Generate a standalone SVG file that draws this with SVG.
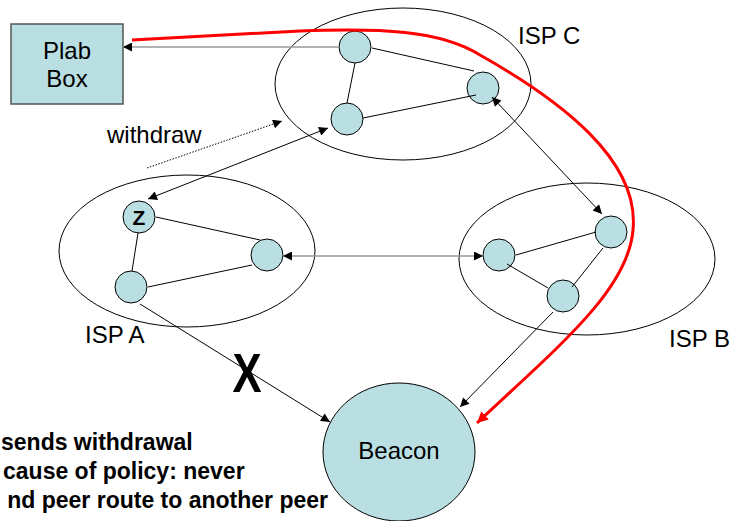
<svg xmlns="http://www.w3.org/2000/svg" width="731" height="521" viewBox="0 0 731 521">
  <style>
    .isp { fill: none; stroke: #000; stroke-width: 1; }
    .rtr { fill: #BADFE2; stroke: #000; stroke-width: 1; }
    .link { stroke: #000; stroke-width: 1; fill: none; }
    .lbl { font-family: "Liberation Sans", Arial, sans-serif; font-size: 24px; fill: #000; }
    .note { font-family: "Liberation Sans", Arial, sans-serif; font-size: 23px; font-weight: bold; fill: #000; }
    .conn { stroke: #000; stroke-width: 1; fill: none; }
    .grey { stroke: #999; stroke-width: 1.5; fill: none; }
  </style>
  <defs>
    <marker id="ah" viewBox="0 0 10 10" refX="10" refY="5" markerWidth="11" markerHeight="9" markerUnits="userSpaceOnUse" orient="auto-start-reverse">
      <path d="M0,0 L10,5 L0,10 z" fill="#000"/>
    </marker>
    <marker id="ahRed" viewBox="0 0 10 10" refX="10" refY="5" markerWidth="14" markerHeight="11" markerUnits="userSpaceOnUse" orient="auto">
      <path d="M0,0 L10,5 L0,10 z" fill="#F00"/>
    </marker>
  </defs>

  <!-- ISP clouds -->
  <g id="ispC">
    <ellipse class="isp" cx="403" cy="84" rx="128" ry="76"/>
    <text class="lbl" x="518" y="44">ISP C</text>
  </g>
  <g id="ispA">
    <ellipse class="isp" cx="187" cy="251" rx="128" ry="76"/>
    <text class="lbl" x="85" y="343">ISP A</text>
  </g>
  <g id="ispB">
    <ellipse class="isp" cx="587" cy="259" rx="128" ry="76"/>
    <text class="lbl" x="669" y="347">ISP B</text>
  </g>

  <!-- Plab box -->
  <g id="plab">
    <rect x="11" y="24" width="112" height="80" fill="#BADFE2" stroke="#555" stroke-width="1.5"/>
    <text class="lbl" x="67" y="59" text-anchor="middle">Plab</text>
    <text class="lbl" x="67" y="87" text-anchor="middle">Box</text>
  </g>

  <!-- Beacon -->
  <g id="beacon">
    <ellipse cx="399" cy="452" rx="76" ry="69" fill="#BADFE2" stroke="#000" stroke-width="1"/>
    <text class="lbl" x="399" y="459" text-anchor="middle">Beacon</text>
  </g>

  <!-- routers -->
  <g id="c1"><circle class="rtr" cx="355" cy="47" r="16"/></g>
  <g id="c2"><circle class="rtr" cx="483" cy="88" r="16"/></g>
  <g id="c3"><circle class="rtr" cx="347" cy="119" r="16"/></g>
  <g id="z">
    <circle class="rtr" cx="139" cy="217" r="16"/>
    <text x="139" y="225" text-anchor="middle" font-family="'Liberation Sans', Arial, sans-serif" font-size="21" font-weight="bold">Z</text>
  </g>
  <g id="a2"><circle class="rtr" cx="267" cy="255" r="16"/></g>
  <g id="a3"><circle class="rtr" cx="131" cy="287" r="16"/></g>
  <g id="b1"><circle class="rtr" cx="499" cy="255" r="16"/></g>
  <g id="b2"><circle class="rtr" cx="611" cy="232" r="16"/></g>
  <g id="b3"><circle class="rtr" cx="563" cy="296" r="16"/></g>

  <!-- links and route announcements -->
  <g id="connectors">
    <!-- intra-ISP links -->
    <line class="link" x1="372" y1="48" x2="474" y2="71"/>
    <line class="link" x1="355" y1="63" x2="347" y2="103"/>
    <line class="link" x1="363" y1="118" x2="476" y2="95"/>
    <line class="link" x1="156" y1="217" x2="260" y2="240"/>
    <line class="link" x1="138" y1="233" x2="132" y2="271"/>
    <line class="link" x1="148" y1="287" x2="252" y2="265"/>
    <line class="link" x1="516" y1="255" x2="596" y2="232"/>
    <line class="link" x1="507" y1="264" x2="548" y2="288"/>
    <line class="link" x1="572" y1="287" x2="603" y2="248"/>

    <!-- inter-ISP sessions -->
    <line class="grey" x1="339" y1="47" x2="123" y2="47" marker-end="url(#ah)"/>
    <line class="grey" x1="283" y1="256" x2="483" y2="256" marker-start="url(#ah)" marker-end="url(#ah)"/>
    <line class="conn" x1="492" y1="97" x2="602" y2="214" marker-start="url(#ah)" marker-end="url(#ah)"/>
    <line class="conn" x1="328" y1="128" x2="148" y2="199" marker-start="url(#ah)" marker-end="url(#ah)"/>
    <line class="conn" x1="140" y1="304" x2="330" y2="422" marker-end="url(#ah)"/>
    <line class="conn" x1="553" y1="312" x2="460" y2="407" marker-end="url(#ah)"/>
    <line class="conn" x1="147" y1="168" x2="282" y2="121" stroke-dasharray="1.5,1.5" marker-end="url(#ah)"/>

    <!-- red route path from Plab box to beacon -->
    <path d="M132,40 L300,31 C380,28 440,30 480,55 C560,100 640,160 633,230 C628,290 560,345 477,423" fill="none" stroke="#F00" stroke-width="3" marker-end="url(#ahRed)"/>
  </g>

  <!-- blocked announcement mark -->
  <text x="0" y="0" transform="translate(247,392) scale(0.78,1)" text-anchor="middle" font-family="'Liberation Sans', Arial, sans-serif" font-size="56" font-weight="bold">X</text>

  <!-- labels -->
  <text class="lbl" x="107" y="143">withdraw</text>
  <text class="note" x="1" y="450">sends withdrawal</text>
  <text class="note" x="3" y="479">cause of policy: never</text>
  <text class="note" x="328" y="508" text-anchor="end">nd peer route to another peer</text>
</svg>
